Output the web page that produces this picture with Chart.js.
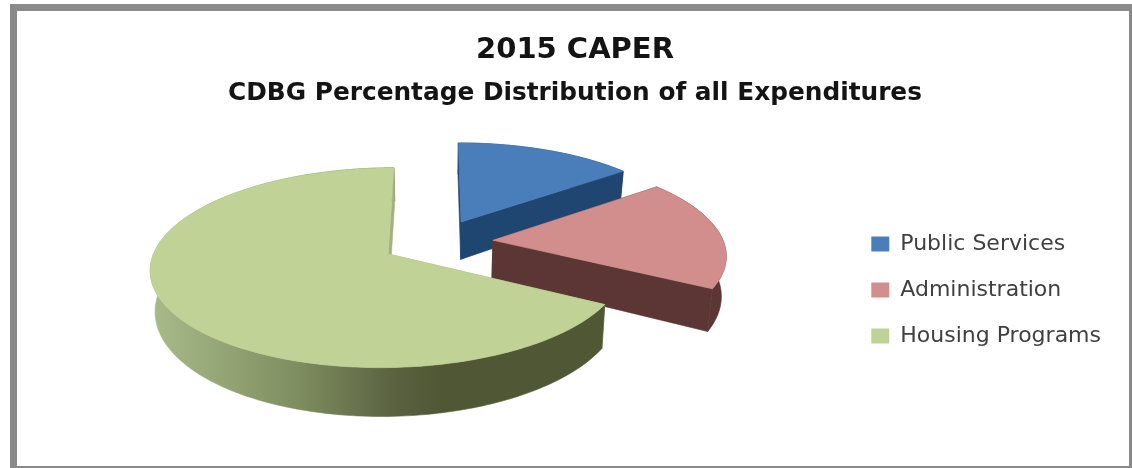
<!DOCTYPE html>
<html>
<head>
<meta charset="utf-8">
<title>2015 CAPER</title>
<script src="https://cdn.jsdelivr.net/npm/chart.js@4"></script>
<style>
    html, body { margin: 0; background: #fff; overflow: hidden; }
    #frame { position: absolute; left: 10px; top: 4px; width: 1126px; height: 469px; box-sizing: border-box; border: 7px solid #8a8a8a; }
    #myChart { position: absolute; left: 0; top: 0; }
</style>
</head>
<body>
<div id="frame"></div>
<canvas id="myChart" width="1132" height="468"></canvas>
<script>
const titleText = '2015 CAPER';
const subtitleText = 'CDBG Percentage Distribution of all Expenditures';
const categories = ['Public Services', 'Administration', 'Housing Programs'];
const shares = [14.5, 18.5, 67];
const topColors = ['#4a7ebb', '#d28e8c', '#c0d296'];
const sideColors = [['#1f4670'], ['#5c3535'], ['#a9bb8b', '#7f8e60', '#58603f', '#4f5735']];
const cutColors = ['#1f4670', '#5c3535', '#a3b083'];

// tilted disc, the far side shrinks a little
const RADIUS = 140;
const EXPLODE = 34;
const viewX = -6, viewY = -0.7;
const stretchX = 1.648, stretchY = 0.677, lean = 0.135;
const floorX = 1.62, floorY = 0.73, floorDrop = 39;

function project(arc, px, py, floor) {
    const u = (px - arc.x) / RADIUS;
    const v = (py - arc.y) / RADIUS;
    const w = 1 - lean * v;
    return {
        x: arc.x + viewX + (floor ? floorX : stretchX) * RADIUS * u / w,
        y: arc.y + viewY + (floor ? floorDrop : 0) + (floor ? floorY : stretchY) * RADIUS * v / w
    };
}

// apex and rim of one slice in chart space, offset along its middle angle
function sliceOutline(arc, offset) {
    const mid = (arc.startAngle + arc.endAngle) / 2;
    const ox = arc.x + Math.cos(mid) * offset;
    const oy = arc.y + Math.sin(mid) * offset;
    const steps = Math.ceil((arc.endAngle - arc.startAngle) / 0.02);
    const rim = [];
    for (let i = 0; i <= steps; i++) {
        const a = arc.startAngle + (arc.endAngle - arc.startAngle) * i / steps;
        rim.push([ox + Math.cos(a) * arc.outerRadius, oy + Math.sin(a) * arc.outerRadius]);
    }
    return { apex: [ox, oy], rim: rim };
}

function fillPoly(ctx, points, style) {
    ctx.beginPath();
    points.forEach(function (p, i) {
        if (i === 0) ctx.moveTo(p.x, p.y);
        else ctx.lineTo(p.x, p.y);
    });
    ctx.closePath();
    ctx.fillStyle = style;
    ctx.strokeStyle = style;
    ctx.lineWidth = 0.6;
    ctx.fill();
    ctx.stroke();
}

function sideStyle(ctx, arc, stops, rim) {
    if (stops.length === 1) return stops[0];
    const left = Math.min.apply(null, rim.map(function (p) { return p.x; }));
    const grad = ctx.createLinearGradient(left, 0, arc.x, 0);
    const at = [0, 0.5, 0.85, 1];
    stops.forEach(function (c, i) { grad.addColorStop(at[i], c); });
    return grad;
}

const pie3d = {
    id: 'pie3d',
    beforeDatasetDraw: function (chart, args) {
        const ctx = chart.ctx;
        const dataset = chart.data.datasets[args.index];
        args.meta.data.forEach(function (el, i) {
            const arc = el.getProps(['x', 'y', 'startAngle', 'endAngle', 'outerRadius'], true);
            const shape = sliceOutline(arc, el.options.offset);
            const rimTop = shape.rim.map(function (p) { return project(arc, p[0], p[1], false); });
            const rimFloor = shape.rim.map(function (p) { return project(arc, p[0], p[1], true); });
            const apexTop = project(arc, shape.apex[0], shape.apex[1], false);
            const apexFloor = project(arc, shape.apex[0], shape.apex[1], true);
            const last = rimTop.length - 1;

            // walls first, the top face covers whatever faces away
            fillPoly(ctx, [apexTop, rimTop[0], rimFloor[0], apexFloor], cutColors[i]);
            fillPoly(ctx, rimTop.concat(rimFloor.slice().reverse()), sideStyle(ctx, arc, sideColors[i], rimTop));
            fillPoly(ctx, [apexTop, rimTop[last], rimFloor[last], apexFloor], cutColors[i]);
            fillPoly(ctx, [apexTop].concat(rimTop), dataset.backgroundColor[i]);
        });
        return false;
    }
};

new Chart(document.getElementById('myChart'), {
    type: 'pie',
    data: {
        labels: categories,
        datasets: [{
            data: shares,
            backgroundColor: topColors,
            borderWidth: 0,
            offset: EXPLODE,
            radius: RADIUS
        }]
    },
    options: {
        responsive: false,
        animation: false,
        layout: { padding: { left: 39, right: 21, top: 33, bottom: 97 } },
        plugins: {
            title: {
                display: true,
                text: titleText,
                color: '#141414',
                font: { family: '"DejaVu Sans"', size: 29, weight: 'bold' },
                padding: { top: 0, bottom: 11 }
            },
            subtitle: {
                display: true,
                text: subtitleText,
                color: '#141414',
                font: { family: '"DejaVu Sans"', size: 24.8, weight: 'bold' },
                padding: { top: 0, bottom: 6 }
            },
            legend: {
                position: 'right',
                align: 'end',
                labels: {
                    boxWidth: 18,
                    boxHeight: 15,
                    padding: 24,
                    color: '#404040',
                    font: { family: '"DejaVu Sans"', size: 22 }
                }
            },
            tooltip: { enabled: false }
        }
    },
    plugins: [pie3d]
});
</script>
</body>
</html>
